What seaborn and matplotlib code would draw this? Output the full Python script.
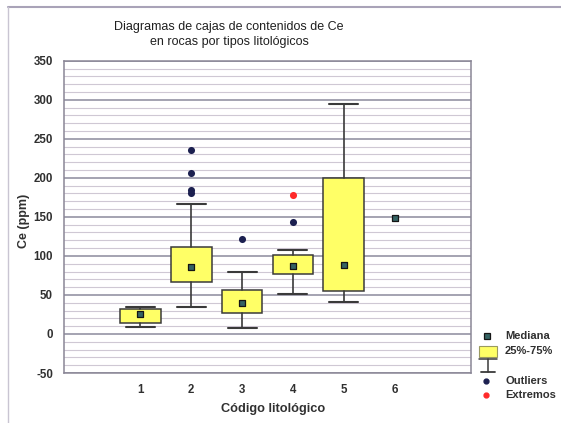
import matplotlib
matplotlib.use("Agg")
import matplotlib.pyplot as plt
from matplotlib.lines import Line2D
from matplotlib.patches import Rectangle
from matplotlib.ticker import MultipleLocator
import seaborn as sns
import pandas as pd

# ---- data ----
categories = [1, 2, 3, 4, 5, 6]
medians = [25, 86, 40, 87, 88, 148]
q1 = [14, 66, 27, 77, 55, 148]
q3 = [32, 111, 56, 101, 200, 148]
whis_lo = [9, 35, 7, 51, 41, 148]
whis_hi = [35, 167, 79, 107, 295, 148]
outlier_cat = [2, 2, 2, 2, 3, 4]
outlier_val = [236, 206, 184, 181, 121, 143]
extreme_cat = [4]
extreme_val = [178]
x_ticks = [0, 1, 2, 3, 4, 5, 6, 7]
x_ticklabels = ["", "1", "2", "3", "4", "5", "6", ""]

title = "Diagramas de cajas de contenidos de Ce\nen rocas por tipos litológicos"
xlabel = "Código litológico"
ylabel = "Ce (ppm)"
legend_labels = ["Mediana", "25%-75%", "", "Outliers", "Extremos"]

# ---- style ----
sns.set_style("white")
plt.rcParams["font.family"] = ["Liberation Sans", "DejaVu Sans"]
plt.rcParams["axes.unicode_minus"] = False

W, H = 561, 423
fig = plt.figure(figsize=(W / 100, H / 100), dpi=100)
ax = fig.add_axes([64 / W, 1 - 373 / H, (471 - 64) / W, (373 - 60.7) / H])

box_col = "#ffff66"
edge_col = "#3a3a3a"
navy = "#1c2050"
red = "#ff2a2a"

# grid
ax.set_ylim(-50, 350)
ax.set_xlim(-0.5, 7.5)
ax.yaxis.set_major_locator(MultipleLocator(50))
ax.yaxis.set_minor_locator(MultipleLocator(10))
ax.grid(which="major", axis="y", color="#8c8a9c", lw=1.1)
ax.grid(which="minor", axis="y", color="#cfc8d4", lw=0.8)
ax.grid(which="major", axis="x", visible=False)
ax.set_axisbelow(True)

# boxes
stats = []
pos = []
for c, m, a, b, lo, hi in zip(categories, medians, q1, q3, whis_lo, whis_hi):
    if b > a:
        stats.append(dict(med=m, q1=a, q3=b, whislo=lo, whishi=hi, fliers=[]))
        pos.append(c)
ax.bxp(stats, positions=pos, widths=0.8, capwidths=0.57, patch_artist=True,
       showfliers=False,
       boxprops=dict(facecolor=box_col, edgecolor=edge_col, lw=1.1),
       whiskerprops=dict(color=edge_col, lw=1.2),
       capprops=dict(color=edge_col, lw=1.5),
       medianprops=dict(lw=0), zorder=3)

df_med = pd.DataFrame({"cat": categories, "val": medians})
df_out = pd.DataFrame({"cat": outlier_cat, "val": outlier_val})
df_ext = pd.DataFrame({"cat": extreme_cat, "val": extreme_val})
sns.scatterplot(data=df_med, x="cat", y="val", marker="s", s=15, color="#356363",
                edgecolor="#151515", linewidth=0.9, ax=ax, zorder=5, legend=False)
sns.scatterplot(data=df_out, x="cat", y="val", marker="o", s=26, color=navy,
                edgecolor=navy, linewidth=0, ax=ax, zorder=5, legend=False)
sns.scatterplot(data=df_ext, x="cat", y="val", marker="o", s=26, color=red,
                edgecolor=red, linewidth=0, ax=ax, zorder=5, legend=False)

# axes look
ax.set_xticks(x_ticks)
ax.set_xticklabels(x_ticklabels)
ax.tick_params(axis="x", direction="in", length=3, color="#808080", pad=8,
               labelsize=8.3, labelcolor="#303030")
ax.tick_params(axis="y", length=0, pad=8, labelsize=8.3, labelcolor="#303030")
for lab in ax.get_xticklabels() + ax.get_yticklabels():
    lab.set_fontweight("bold")
for sp in ax.spines.values():
    sp.set_color("#8a8696")
    sp.set_linewidth(1.1)
ax.set_xlabel("")
ax.set_ylabel("")

fig.text(273 / W, 1 - 409 / H, xlabel, ha="center", va="center", fontsize=9.2,
         fontweight="bold", color="#303030")
fig.text(24 / W, 1 - 221 / H, ylabel, ha="center", va="center", fontsize=9,
         fontweight="bold", rotation=90, color="#303030")
fig.text(229 / W, 1 - 34.5 / H, title, ha="center", va="center", fontsize=9,
         fontweight="medium", color="#202020", linespacing=1.3)

# legend (drawn in figure pixel coordinates)
def fx(x):
    return x / W

def fy(y):
    return 1 - y / H

tf = fig.transFigure
fig.add_artist(Line2D([fx(487)], [fy(336)], marker="s", ms=3.8, mfc="#356363",
                      mec="#151515", mew=0.9, ls="none", transform=tf))
fig.add_artist(Rectangle((fx(479), fy(357)), fx(18), (11) / H, facecolor=box_col,
                         edgecolor="#9a9a60", lw=0.8, transform=tf))
fig.add_artist(Line2D([fx(479), fx(497)], [fy(359), fy(359)], color=edge_col, lw=1.1, transform=tf))
fig.add_artist(Line2D([fx(488), fx(488)], [fy(359), fy(372)], color=edge_col, lw=1.1, transform=tf))
fig.add_artist(Line2D([fx(481), fx(495)], [fy(372), fy(372)], color=edge_col, lw=1.3, transform=tf))
fig.add_artist(Line2D([fx(486)], [fy(381)], marker="o", ms=3.5, mfc=navy, mec=navy,
                      ls="none", transform=tf))
fig.add_artist(Line2D([fx(486)], [fy(395)], marker="o", ms=3.5, mfc=red, mec=red,
                      ls="none", transform=tf))
leg_y = [336, 351, 365, 381, 395]
for lab, yy in zip(legend_labels, leg_y):
    if lab:
        fig.text(fx(505), fy(yy), lab, ha="left", va="center", fontsize=8,
                 fontweight="bold", color="#303030")

# outer frame
fig.add_artist(Line2D([fx(8), fx(561)], [fy(7), fy(7)], color="#a9a3b8", lw=1.5, transform=tf))
fig.add_artist(Line2D([fx(8), fx(8)], [fy(7), fy(423)], color="#c9c5d2", lw=1.0, transform=tf))

fig.savefig("out.png", dpi=100)
